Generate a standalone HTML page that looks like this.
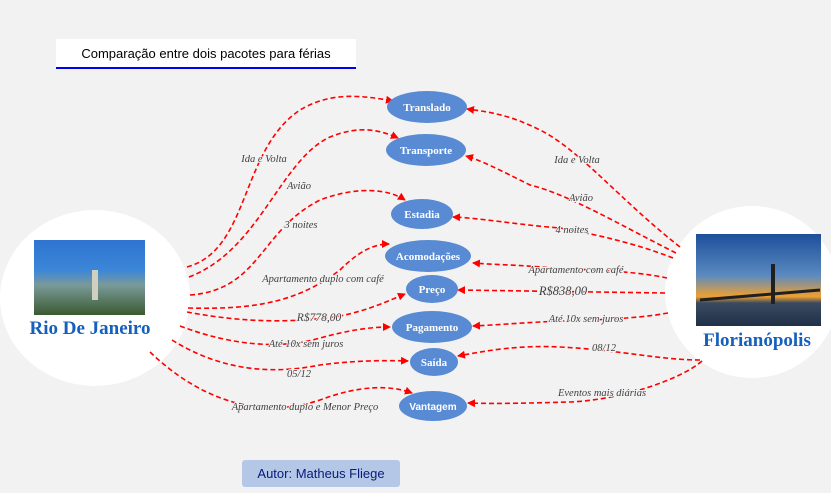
<!DOCTYPE html>
<html><head><meta charset="utf-8"><style>
html,body{margin:0;padding:0;background:#f2f2f2;width:831px;height:493px;overflow:hidden}
svg{display:block}
.l{font-family:"Liberation Serif",serif;font-style:italic;font-size:10.5px;fill:#404040;paint-order:stroke;stroke:#f2f2f2;stroke-width:2px}
.n{font-family:"Liberation Serif",serif;font-weight:bold;font-size:11px;fill:#fff}
</style></head><body>
<svg width="831" height="493" viewBox="0 0 831 493" xmlns="http://www.w3.org/2000/svg">
<defs>
<marker id="a" markerWidth="8" markerHeight="8" refX="7" refY="4" orient="auto" markerUnits="userSpaceOnUse">
<path d="M0,0 L8,4 L0,8 z" fill="#ff0000"/></marker>
<linearGradient id="sky" x1="0" y1="0" x2="0" y2="1"><stop offset="0" stop-color="#2f74d0"/><stop offset="0.4" stop-color="#3a86d8"/><stop offset="0.6" stop-color="#7a9a9a"/><stop offset="1" stop-color="#3a5a30"/></linearGradient>
<linearGradient id="sky2" x1="0" y1="0" x2="0" y2="1"><stop offset="0" stop-color="#1d4f9a"/><stop offset="0.45" stop-color="#5a8ac0"/><stop offset="0.68" stop-color="#f0a030"/><stop offset="0.75" stop-color="#3a4a60"/><stop offset="1" stop-color="#203048"/></linearGradient>
</defs>
<rect x="56" y="39" width="300" height="30" fill="#fff"/>
<rect x="56" y="67" width="300" height="2" fill="#0000ee"/>
<text x="206" y="58" text-anchor="middle" font-family="Liberation Sans,sans-serif" font-size="13" fill="#000">Comparação entre dois pacotes para férias</text>

<ellipse cx="95" cy="298" rx="95" ry="88" fill="#fff"/>
<rect x="34" y="240" width="111" height="75" fill="url(#sky)"/>
<rect x="92" y="270" width="6" height="30" fill="#d0d0c0"/>
<text x="90" y="334" text-anchor="middle" font-family="Liberation Serif,serif" font-weight="bold" font-size="19" fill="#1560bd">Rio De Janeiro</text>

<ellipse cx="752" cy="292" rx="87" ry="86" fill="#fff"/>
<rect x="696" y="234" width="125" height="92" fill="url(#sky2)"/>
<path d="M700,300 L820,290" stroke="#202020" stroke-width="3"/>
<rect x="771" y="264" width="4" height="40" fill="#202020"/>
<text x="757" y="346" text-anchor="middle" font-family="Liberation Serif,serif" font-weight="bold" font-size="19" fill="#1560bd">Florianópolis</text>

<g fill="none" stroke="#ff0000" stroke-width="1.6" stroke-dasharray="5,3">
<path d="M187,267 C250,250 240,150 300,110 C330,92 360,95 393,101" marker-end="url(#a)"/>
<path d="M189,277 C260,250 280,160 330,137 C360,125 380,130 398,138" marker-end="url(#a)"/>
<path d="M190,295 C260,290 260,230 320,200 C360,185 390,190 405,200" marker-end="url(#a)"/>
<path d="M188,308 C260,310 300,300 340,270 C360,250 375,244 389,244" marker-end="url(#a)"/>
<path d="M187,312 C230,320 280,325 340,316 C370,310 390,300 405,294" marker-end="url(#a)"/>
<path d="M180,326 C230,345 280,350 320,338 C350,330 370,327 390,327" marker-end="url(#a)"/>
<path d="M172,340 C220,370 270,375 320,365 C350,361 380,360 408,361" marker-end="url(#a)"/>
<path d="M150,352 C200,400 260,420 320,400 C360,385 390,385 412,393" marker-end="url(#a)"/>
<path d="M680,247 C620,200 580,150 540,130 C510,115 490,112 467,109" marker-end="url(#a)"/>
<path d="M676,253 C620,225 570,195 530,185 C500,170 480,160 466,156" marker-end="url(#a)"/>
<path d="M673,258 C640,245 600,235 560,228 C520,225 480,218 453,217" marker-end="url(#a)"/>
<path d="M667,278 C630,270 580,270 540,267 C520,265 500,265 473,263" marker-end="url(#a)"/>
<path d="M665,293 L458,290" marker-end="url(#a)"/>
<path d="M668,313 C630,320 580,320 540,322 C520,323 495,325 473,326" marker-end="url(#a)"/>
<path d="M700,360 C660,360 620,350 560,347 C520,345 490,350 458,356" marker-end="url(#a)"/>
<path d="M702,361 C680,380 620,400 570,402 C530,403 500,404 468,403" marker-end="url(#a)"/>
</g>

<g fill="#588bd3">
<ellipse cx="427" cy="107" rx="40" ry="16"/>
<ellipse cx="426" cy="150" rx="40" ry="16"/>
<ellipse cx="422" cy="214" rx="31" ry="15"/>
<ellipse cx="428" cy="256" rx="43" ry="16"/>
<ellipse cx="432" cy="289" rx="26" ry="14"/>
<ellipse cx="432" cy="327" rx="40" ry="16"/>
<ellipse cx="434" cy="362" rx="24" ry="14"/>
<ellipse cx="433" cy="406" rx="34" ry="15"/>
</g>
<g class="n" text-anchor="middle">
<text x="427" y="111">Translado</text>
<text x="426" y="154">Transporte</text>
<text x="422" y="218">Estadia</text>
<text x="428" y="260">Acomodações</text>
<text x="432" y="293">Preço</text>
<text x="432" y="331">Pagamento</text>
<text x="434" y="366">Saída</text>
<text x="433" y="410" font-family="Liberation Sans,sans-serif" font-size="10">Vantagem</text>
</g>
<g class="l" text-anchor="middle">
<text x="264" y="162">Ida e Volta</text>
<text x="299" y="189">Avião</text>
<text x="301" y="228">3 noites</text>
<text x="323" y="282">Apartamento duplo com café</text>
<text x="319" y="321" font-size="11.5">R$778,00</text>
<text x="306" y="347">Até 10x sem juros</text>
<text x="299" y="377">05/12</text>
<text x="305" y="410">Apartamento duplo e Menor Preço</text>
<text x="577" y="163">Ida e Volta</text>
<text x="581" y="201">Avião</text>
<text x="572" y="233">4 noites</text>
<text x="576" y="273">Apartamento com café</text>
<text x="563" y="295" font-size="12.5">R$838,00</text>
<text x="586" y="322">Até 10x sem juros</text>
<text x="604" y="351">08/12</text>
<text x="602" y="396">Eventos mais diárias</text>
</g>

<rect x="242" y="460" width="158" height="27" rx="3" fill="#b4c7e7"/>
<text x="321" y="478" text-anchor="middle" font-family="Liberation Sans,sans-serif" font-size="13" fill="#0a1a7a">Autor: Matheus Fliege</text>
</svg>
</body></html>
